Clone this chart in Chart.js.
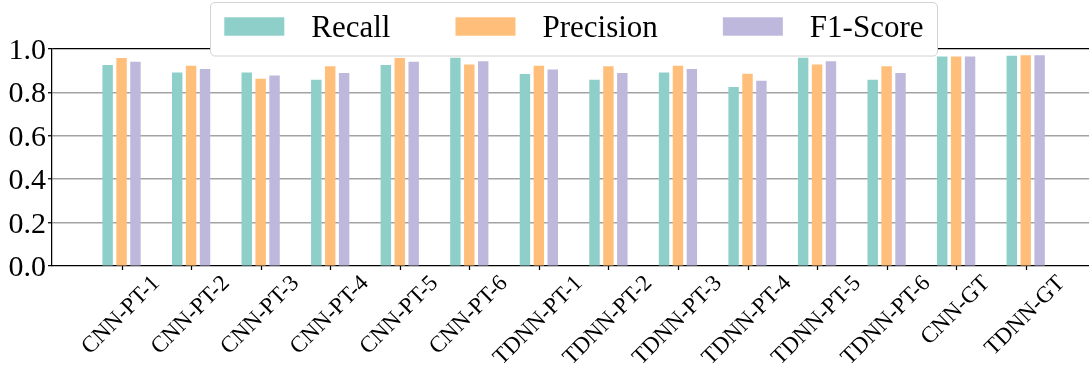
<!DOCTYPE html>
<html>
<head>
<meta charset="utf-8">
<script src="https://cdn.jsdelivr.net/npm/chart.js@4.4.1/dist/chart.umd.min.js"></script>
<style>
  html, body { margin: 0; padding: 0; background: #fff; }
  #wrap { width: 1089px; height: 368px; }
</style>
</head>
<body>
<div id="wrap"><canvas id="c" width="1089" height="368"></canvas></div>
<script>
// Model variants on the x axis
const categories = [
  'CNN-PT-1', 'CNN-PT-2', 'CNN-PT-3', 'CNN-PT-4', 'CNN-PT-5', 'CNN-PT-6',
  'TDNN-PT-1', 'TDNN-PT-2', 'TDNN-PT-3', 'TDNN-PT-4', 'TDNN-PT-5', 'TDNN-PT-6',
  'CNN-GT', 'TDNN-GT'
];

// Scores per model
const recall    = [0.926, 0.892, 0.892, 0.858, 0.926, 0.960, 0.885, 0.858, 0.892, 0.825, 0.960, 0.858, 0.965, 0.969];
const precision = [0.958, 0.923, 0.863, 0.921, 0.958, 0.928, 0.923, 0.921, 0.923, 0.886, 0.928, 0.921, 0.965, 0.971];
const f1Score   = [0.941, 0.908, 0.878, 0.889, 0.941, 0.943, 0.905, 0.889, 0.908, 0.854, 0.943, 0.889, 0.965, 0.971];

const yTicks = [0.0, 0.2, 0.4, 0.6, 0.8, 1.0];
const seriesNames = ['Recall', 'Precision', 'F1-Score'];
const seriesColors = ['#8ECFC9', '#FFBE7A', '#BEB8DC'];

const SERIF = "'Liberation Serif', 'Times New Roman', serif";
const AXIS_W = 1.25;

const toPoints = arr => arr.map((v, i) => ({ x: i, y: v }));
const seriesValues = [recall, precision, f1Score];

// Tick labels for both axes: y values on the left, rotated category names below
const tickLabelsPlugin = {
  id: 'tickLabels',
  afterDraw(chart) {
    const ctx = chart.ctx;
    const xs = chart.scales.x;
    const ys = chart.scales.y;
    const bottom = chart.chartArea.bottom;
    ctx.save();
    ctx.fillStyle = '#000';

    // y values
    const yfs = 30;
    ctx.font = yfs + 'px ' + SERIF;
    ctx.textAlign = 'right';
    ctx.textBaseline = 'alphabetic';
    yTicks.forEach(v => {
      const y = ys.getPixelForValue(v);
      ctx.fillText(v.toFixed(1), 46, y + 0.33 * yfs);
    });

    // x tick marks
    ctx.strokeStyle = '#000';
    ctx.lineWidth = AXIS_W;
    categories.forEach((_, i) => {
      const x = Math.round(xs.getPixelForValue(i)) + 0.5;
      ctx.beginPath();
      ctx.moveTo(x, bottom);
      ctx.lineTo(x, bottom + 4);
      ctx.stroke();
    });

    // category names, rotated 45 degrees and centred on their ticks
    const fs = 23;
    ctx.font = fs + 'px ' + SERIF;
    ctx.textAlign = 'center';
    const top = bottom + 7;
    categories.forEach((label, i) => {
      const x = xs.getPixelForValue(i);
      const L = ctx.measureText(label).width;
      const H = 0.9 * fs;
      const bboxH = (L + H) * Math.SQRT1_2;
      ctx.save();
      ctx.translate(x, top + bboxH / 2);
      ctx.rotate(-Math.PI / 4);
      ctx.fillText(label, 0, 0.233 * fs);
      ctx.restore();
    });
    ctx.restore();
  }
};

// Framed legend across the top of the plot
const legendPlugin = {
  id: 'boxLegend',
  afterDraw(chart) {
    const ctx = chart.ctx;
    const fs = 31;
    ctx.save();
    ctx.font = fs + 'px ' + SERIF;
    const left = 210.5, top = 2.5, bottom = 56;
    const patchW = 60, patchH = 18.4, patchTop = 17.3;
    const textGap = 27, colGap = 65, baseline = 37.3;
    let x = 224.3;
    const items = chart.data.datasets.map(ds => {
      const w = ctx.measureText(ds.label).width;
      const it = { label: ds.label, color: ds.backgroundColor, px: x, tx: x + patchW + textGap, w };
      x = it.tx + w + colGap;
      return it;
    });
    const last = items[items.length - 1];
    const right = last.tx + last.w + 14;
    ctx.beginPath();
    ctx.roundRect(left, top, right - left, bottom - top, 4.5);
    ctx.fillStyle = '#fff';
    ctx.fill();
    ctx.strokeStyle = '#d2d2d2';
    ctx.lineWidth = 1;
    ctx.stroke();
    ctx.textBaseline = 'alphabetic';
    ctx.textAlign = 'left';
    items.forEach(it => {
      ctx.fillStyle = it.color;
      ctx.fillRect(it.px, patchTop, patchW, patchH);
      ctx.fillStyle = '#000';
      ctx.fillText(it.label, it.tx, baseline);
    });
    ctx.restore();
  }
};

new Chart(document.getElementById('c'), {
  type: 'bar',
  data: {
    datasets: seriesNames.map((name, k) => ({
      label: name,
      data: toPoints(seriesValues[k]),
      backgroundColor: seriesColors[k],
      borderWidth: 0,
      categoryPercentage: 0.6,
      barPercentage: 0.75
    }))
  },
  options: {
    responsive: false,
    animation: false,
    devicePixelRatio: 1,
    layout: { padding: { top: 49, left: 0, right: 0, bottom: 0 } },
    plugins: {
      legend: { display: false },
      tooltip: { enabled: false }
    },
    scales: {
      x: {
        type: 'linear',
        min: -1,
        max: 13.91,
        offset: false,
        ticks: { display: false },
        grid: { display: false, offset: false },
        border: { display: true, color: '#000', width: AXIS_W },
        afterFit(s) { s.height = 102; }
      },
      y: {
        min: 0,
        max: 1,
        z: 1,
        afterBuildTicks(s) { s.ticks = yTicks.map(v => ({ value: v })); },
        afterFit(s) { s.width = 52; },
        ticks: { display: false },
        grid: {
          color: c => {
            const v = c.tick ? c.tick.value : null;
            if (v === 1) return '#000';
            if (v === 0) return 'rgba(0,0,0,0)';
            return 'rgba(0,0,0,0.36)';
          },
          lineWidth: c => (c.tick && (c.tick.value === 1 || c.tick.value === 0)) ? AXIS_W : 1.5,
          drawTicks: true,
          tickLength: 4,
          tickColor: '#000',
          tickWidth: AXIS_W
        },
        border: { display: true, color: '#000', width: AXIS_W }
      }
    }
  },
  plugins: [tickLabelsPlugin, legendPlugin]
});
</script>
</body>
</html>
